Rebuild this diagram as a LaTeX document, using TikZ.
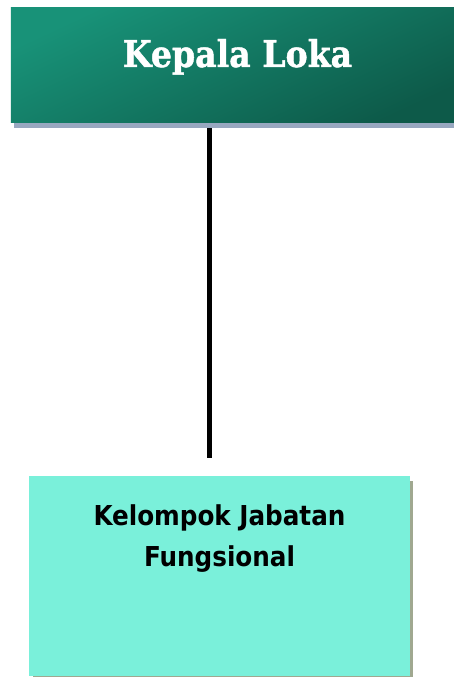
\documentclass[tikz,border=0pt]{standalone}
\usepackage{fontspec}
\newfontfamily\headfont{DejaVu Serif Condensed}[BoldFeatures={FakeBold=1.2}]
\newfontfamily\bodyfont{DejaVu Sans Condensed}
\definecolor{tealA}{RGB}{24,146,120}
\definecolor{tealB}{RGB}{13,90,73}
\definecolor{aqua}{RGB}{122,240,218}
\definecolor{shadowblue}{RGB}{152,168,192}
\definecolor{shadowolive}{RGB}{160,168,144}
\tikzset{
  topbox/.style={rectangle, inner sep=0pt, minimum width=453bp, minimum height=114bp,
    top color=tealA, bottom color=tealB, shading angle=25, draw=none,
    text=white, font=\headfont\bfseries\fontsize{37}{40}\selectfont,
    text height=59bp, text depth=55bp},
  botbox/.style={rectangle, inner sep=0pt, minimum width=381bp, minimum height=200bp,
    fill=aqua, draw=none},
  bottext/.style={inner sep=0pt, align=center, anchor=north,
    font=\bodyfont\bfseries\fontsize{27.5}{42}\selectfont},
  connector/.style={line width=4.5bp, black}
}
\begin{document}
\begin{tikzpicture}[x=1bp,y=-1bp]
\useasboundingbox (0,0) rectangle (454,677);
% shadows
\fill[shadowblue] (14,122) rectangle (464,128);
\fill[shadowolive] (33,481) rectangle (413,678);
% boxes
\node[topbox] (kepala) at (237.5,65) {Kepala Loka};
\node[botbox] (kjf) at (219.5,576) {};
\node[bottext] (kjftext) at (219.5,504) {Kelompok Jabatan\\Fungsional};
% connector
\coordinate (ls) at (209.5,128);
\coordinate (le) at (209.5,458);
\draw[connector] (ls) -- (le);
\end{tikzpicture}
\end{document}
